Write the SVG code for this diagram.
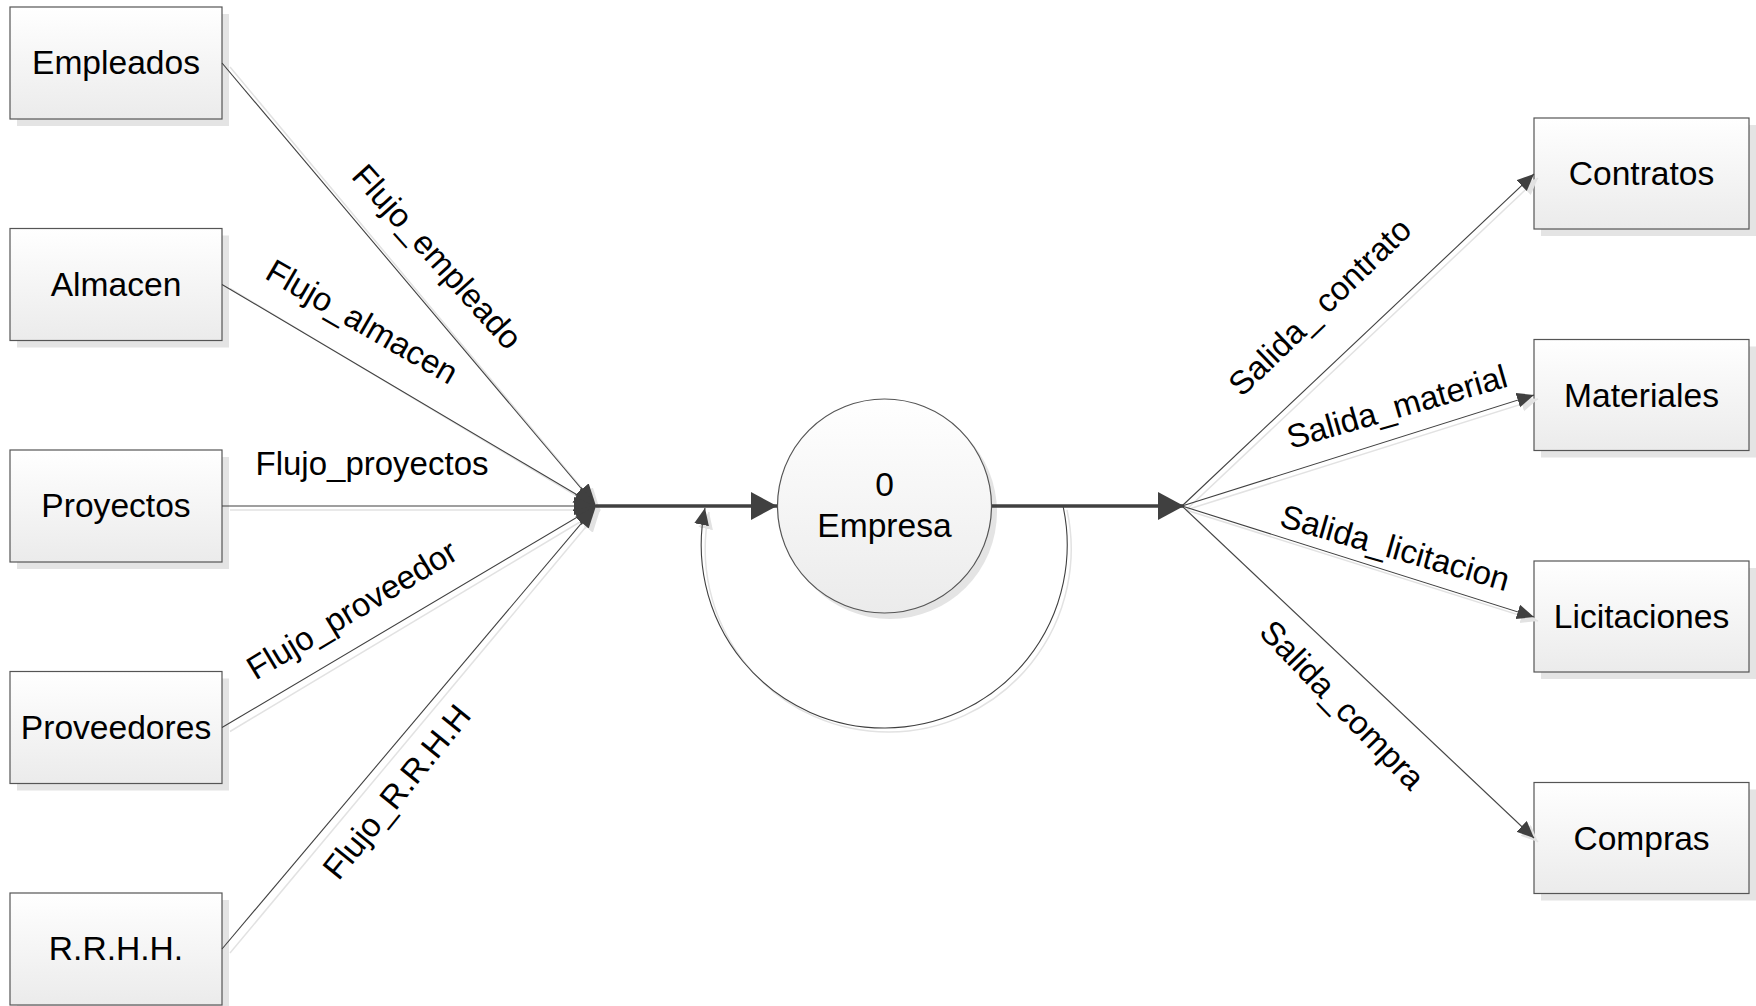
<svg xmlns="http://www.w3.org/2000/svg" width="1756" height="1006" viewBox="0 0 1756 1006">
<style>
.box{fill:url(#g);stroke:#555;stroke-width:1.2}
.sh{fill:#e4e4e4}
.t{font-family:"Liberation Sans",Arial,sans-serif;font-size:33px;fill:#000;text-anchor:middle}
.bt{font-size:33.6px}
.ln{fill:none;stroke:#404040;stroke-width:1.1}
.lns{fill:none;stroke:#e2e2e2;stroke-width:1.5}
.thick{fill:none;stroke:#404040;stroke-width:3.5}
</style>
<defs>
<linearGradient id="g" x1="0" y1="0" x2="0" y2="1">
<stop offset="0" stop-color="#ffffff"/>
<stop offset="1" stop-color="#ebebeb"/>
</linearGradient>
<marker id="a" markerUnits="userSpaceOnUse" markerWidth="20" markerHeight="16" refX="17" refY="7.5" orient="auto">
<path d="M0,0 L17,7.5 L0,15 z" fill="#404040"/>
</marker>
<marker id="as" markerUnits="userSpaceOnUse" markerWidth="20" markerHeight="16" refX="17" refY="7.5" orient="auto">
<path d="M0,0 L17,7.5 L0,15 z" fill="#e2e2e2"/>
</marker>
<marker id="j" markerUnits="userSpaceOnUse" markerWidth="24" markerHeight="20" refX="22" refY="9" orient="auto">
<path d="M0,0 L22,9 L0,18 z" fill="#404040"/>
</marker>
<marker id="js" markerUnits="userSpaceOnUse" markerWidth="24" markerHeight="20" refX="22" refY="9" orient="auto">
<path d="M0,0 L22,9 L0,18 z" fill="#e2e2e2"/>
</marker>
<marker id="A" markerUnits="userSpaceOnUse" markerWidth="28" markerHeight="30" refX="26" refY="14" orient="auto">
<path d="M0,0 L26,14 L0,28 z" fill="#404040"/>
</marker>
</defs>
<rect width="1756" height="1006" fill="#fff"/>

<g id="empleados">
<rect class="sh" x="17" y="14" width="212" height="112"/>
<rect class="box" x="10" y="7" width="212" height="112"/>
<text class="t bt" x="116" y="74">Empleados</text>
</g>
<g id="almacen">
<rect class="sh" x="17" y="235.5" width="212" height="112"/>
<rect class="box" x="10" y="228.5" width="212" height="112"/>
<text class="t bt" x="116" y="295.5">Almacen</text>
</g>
<g id="proyectos">
<rect class="sh" x="17" y="457" width="212" height="112"/>
<rect class="box" x="10" y="450" width="212" height="112"/>
<text class="t bt" x="116" y="517">Proyectos</text>
</g>
<g id="proveedores">
<rect class="sh" x="17" y="678.5" width="212" height="112"/>
<rect class="box" x="10" y="671.5" width="212" height="112"/>
<text class="t bt" x="116" y="738.5">Proveedores</text>
</g>
<g id="rrhh">
<rect class="sh" x="17" y="900" width="212" height="112"/>
<rect class="box" x="10" y="893" width="212" height="112"/>
<text class="t bt" x="116" y="960">R.R.H.H.</text>
</g>

<g id="empresa">
<circle cx="890" cy="512" r="107" fill="#e4e4e4"/>
<circle cx="884.5" cy="506" r="107" fill="url(#g)" stroke="#555" stroke-width="1.2"/>
<text class="t bt" x="884.5" y="496">0</text>
<text class="t bt" x="884.5" y="537">Empresa</text>
</g>

<g id="contratos">
<rect class="sh" x="1541" y="125" width="215" height="111"/>
<rect class="box" x="1534" y="118" width="215" height="111"/>
<text class="t bt" x="1641.5" y="185">Contratos</text>
</g>
<g id="materiales">
<rect class="sh" x="1541" y="346.5" width="215" height="111"/>
<rect class="box" x="1534" y="339.5" width="215" height="111"/>
<text class="t bt" x="1641.5" y="406.5">Materiales</text>
</g>
<g id="licitaciones">
<rect class="sh" x="1541" y="568" width="215" height="111"/>
<rect class="box" x="1534" y="561" width="215" height="111"/>
<text class="t bt" x="1641.5" y="628">Licitaciones</text>
</g>
<g id="compras">
<rect class="sh" x="1541" y="789.5" width="215" height="111"/>
<rect class="box" x="1534" y="782.5" width="215" height="111"/>
<text class="t bt" x="1641.5" y="849.5">Compras</text>
</g>

<g id="connectors">
<g transform="translate(4,4)">
<path class="lns" marker-end="url(#js)" d="M226,63 L596,506"/>
<path class="lns" marker-end="url(#js)" d="M226,284.5 L596,506"/>
<path class="lns" marker-end="url(#js)" d="M226,506 L596,506"/>
<path class="lns" marker-end="url(#js)" d="M226,727.5 L596,506"/>
<path class="lns" marker-end="url(#js)" d="M226,949 L596,506"/>
<path class="lns" marker-end="url(#as)" d="M1182,506 L1534,174"/>
<path class="lns" marker-end="url(#as)" d="M1182,506 L1534,395"/>
<path class="lns" marker-end="url(#as)" d="M1182,506 L1534,617"/>
<path class="lns" marker-end="url(#as)" d="M1182,506 L1534,838"/>
<path class="lns" marker-end="url(#as)" d="M1063,506 A183,183 0 1 1 705,508"/>
</g>
<path class="ln" marker-end="url(#j)" d="M222,63 L596,506"/>
<path class="ln" marker-end="url(#j)" d="M222,284.5 L596,506"/>
<path class="ln" marker-end="url(#j)" d="M222,506 L596,506"/>
<path class="ln" marker-end="url(#j)" d="M222,727.5 L596,506"/>
<path class="ln" marker-end="url(#j)" d="M222,949 L596,506"/>
<path class="thick" marker-end="url(#A)" d="M596,506 L777,506"/>
<path class="thick" marker-end="url(#A)" d="M992,506 L1184,506"/>
<path class="ln" marker-end="url(#a)" d="M1182,506 L1534,174"/>
<path class="ln" marker-end="url(#a)" d="M1182,506 L1534,395"/>
<path class="ln" marker-end="url(#a)" d="M1182,506 L1534,617"/>
<path class="ln" marker-end="url(#a)" d="M1182,506 L1534,838"/>
<path class="ln" marker-end="url(#a)" d="M1063,506 A183,183 0 1 1 705,508"/>
<text class="t" transform="translate(437,257) rotate(48)" y="11">Flujo_empleado</text>
<text class="t" transform="translate(362,322) rotate(30)" y="11">Flujo_almacen</text>
<text class="t" transform="translate(372,464)" y="11">Flujo_proyectos</text>
<text class="t" transform="translate(352,610) rotate(-31)" y="11">Flujo_proveedor</text>
<text class="t" transform="translate(397,792) rotate(-51)" y="11">Flujo_R.R.H.H</text>
<text class="t" transform="translate(1320,307) rotate(-44)" y="11">Salida_ contrato</text>
<text class="t" transform="translate(1397,407) rotate(-16)" y="11">Salida_material</text>
<text class="t" transform="translate(1395,548) rotate(16)" y="11">Salida_licitacion</text>
<text class="t" transform="translate(1342,705) rotate(46)" y="11">Salida_compra</text>
</g>
</svg>
